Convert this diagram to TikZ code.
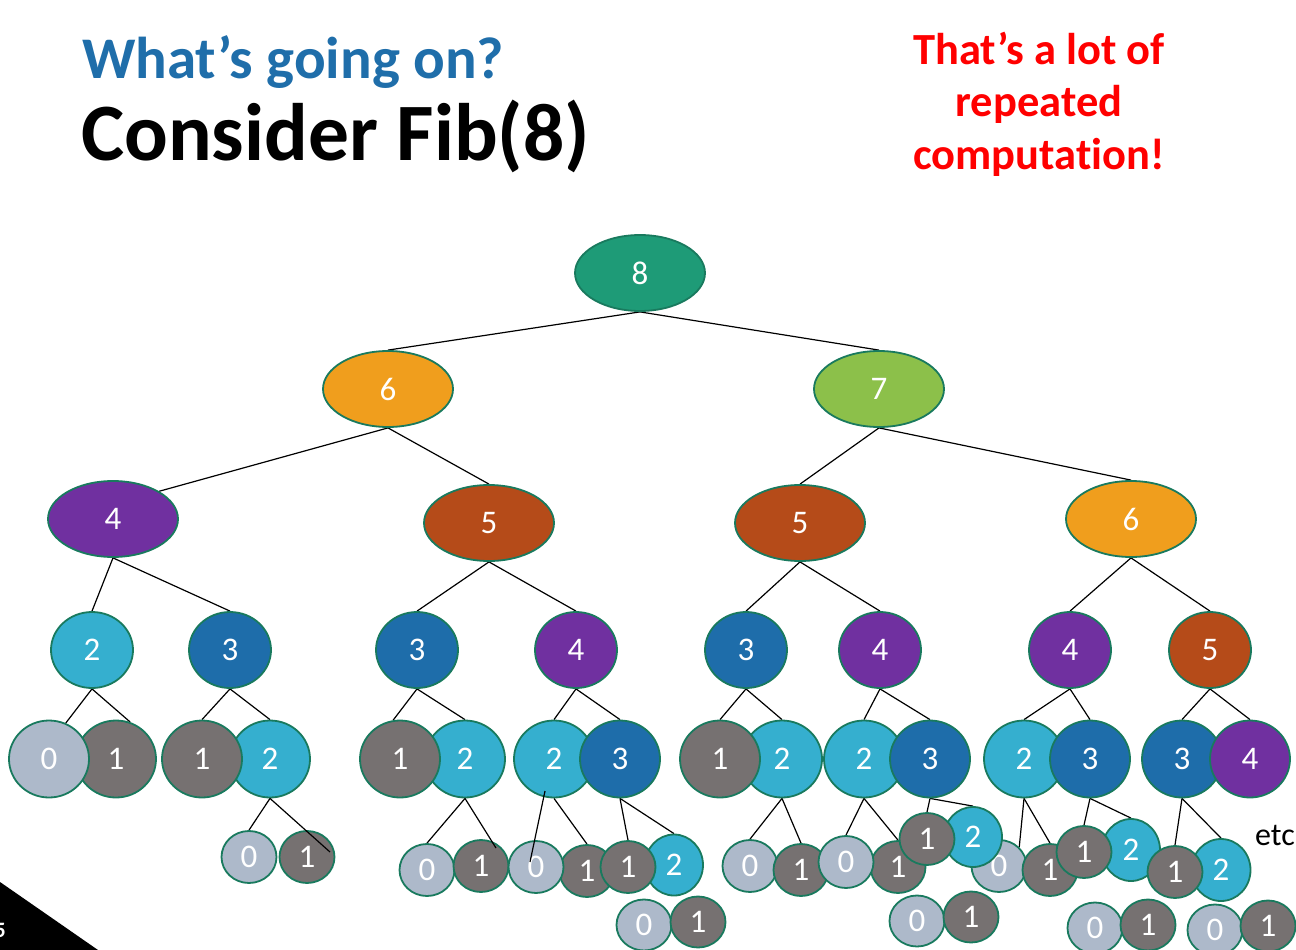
\documentclass[tikz,border=0pt]{standalone}
\usepackage{fontspec}
\setmainfont{Carlito}[Ligatures=CommonOff]
\usetikzlibrary{shapes.geometric,calc}
\pgfdeclarelayer{background}
\pgfsetlayers{background,main}

% fill colours, one per value of n
\definecolor{fibE}{HTML}{1E9B77}
\definecolor{fibSev}{HTML}{8CC04A}
\definecolor{fibS}{HTML}{F09E1D}
\definecolor{fibF}{HTML}{B54B19}
\definecolor{fibFo}{HTML}{7030A0}
\definecolor{fibT}{HTML}{1E6DAA}
\definecolor{fibTw}{HTML}{35AFCF}
\definecolor{fibO}{HTML}{767171}
\definecolor{fibZ}{HTML}{ADB9CA}
\definecolor{ring}{HTML}{197A5E}
\definecolor{headblue}{HTML}{1F6EAA}

\begin{document}
\begin{tikzpicture}[x=1pt,y=-1pt,
  fib/.style={ellipse,draw=ring,line width=1.8pt,text=white,inner sep=0pt,
              font=\fontsize{33}{39}\selectfont},
  big/.style={fib,minimum width=130pt,minimum height=76pt},
  mid/.style={fib,minimum width=82pt,minimum height=76pt},
  low/.style={fib,minimum width=80pt,minimum height=77pt},
  leaf/.style={fib,minimum width=55pt,minimum height=52pt},
  leaftwo/.style={fib,minimum width=58pt,minimum height=61pt},
  link/.style={line width=1.2pt,black}]

\useasboundingbox (0,0) rectangle (1296,950);

% headings
\node[anchor=base west,inner sep=0pt,text=headblue,
      font=\bfseries\fontsize{59}{70}\selectfont] (head) at (82,78) {What’s going on?};
\node[anchor=base west,inner sep=0pt,
      font=\bfseries\fontsize{81.5}{96}\selectfont] (title) at (81,160) {Consider Fib(8)};
\node[align=center,inner sep=0pt,text=red,
      font=\bfseries\fontsize{44.5}{52.5}\selectfont] (note) at (1039,104)
      {That’s a lot of\\repeated\\computation!};

% page corner
\fill[black] (0,882) -- (98,950) -- (0,950) -- cycle;
\node[anchor=base east,inner sep=0pt,text=white,
      font=\bfseries\fontsize{22}{26}\selectfont] (pg) at (6,937) {5};

% level 0-2
\node[big,fill=fibE] (a) at (640,273) {8};
\node[big,fill=fibS] (b1) at (388,389) {6};
\node[big,fill=fibSev] (b2) at (879,389) {7};
\node[big,fill=fibFo] (c1) at (113,519) {4};
\node[big,fill=fibF] (c2) at (489,523) {5};
\node[big,fill=fibF] (c3) at (800,523) {5};
\node[big,fill=fibS] (c4) at (1131,519) {6};

% level 3
\node[mid,fill=fibTw] (d1) at (92,650) {2};
\node[mid,fill=fibT] (d2) at (230,650) {3};
\node[mid,fill=fibT] (d3) at (417,650) {3};
\node[mid,fill=fibFo] (d4) at (576,650) {4};
\node[mid,fill=fibT] (d5) at (746,650) {3};
\node[mid,fill=fibFo] (d6) at (880,650) {4};
\node[mid,fill=fibFo] (d7) at (1070,650) {4};
\node[mid,fill=fibF] (d8) at (1210,650) {5};

% level 4
\node[low,fill=fibO] (e2) at (116,759) {1};
\node[low,fill=fibZ] (e1) at (49,759) {0};
\node[low,fill=fibTw] (e4) at (270,759) {2};
\node[low,fill=fibO] (e3) at (202,759) {1};
\node[low,fill=fibTw] (e6) at (465,759) {2};
\node[low,fill=fibO] (e5) at (400,759) {1};
\node[low,fill=fibTw] (e7) at (554,759) {2};
\node[low,fill=fibT] (e8) at (620,759) {3};
\node[low,fill=fibTw] (e10) at (782,759) {2};
\node[low,fill=fibO] (e9) at (720,759) {1};
\node[low,fill=fibTw] (e11) at (864,759) {2};
\node[low,fill=fibT] (e12) at (930,759) {3};
\node[low,fill=fibTw] (e13) at (1024,759) {2};
\node[low,fill=fibT] (e14) at (1090,759) {3};
\node[low,fill=fibT] (e15) at (1182,759) {3};
\node[low,fill=fibFo] (e16) at (1250,759) {4};

% level 5
\node[leaf,fill=fibZ] (f1) at (249,857) {0};
\node[leaf,fill=fibO] (f2) at (307,857) {1};
\node[leaf,fill=fibZ] (f3) at (427,870) {0};
\node[leaf,fill=fibO] (f4) at (481,866) {1};
\node[leaf,fill=fibO] (f6) at (587,871) {1};
\node[leaf,fill=fibZ] (f5) at (536,867) {0};
\node[leaftwo,fill=fibTw] (f8) at (674,865) {2};
\node[leaf,fill=fibO] (f7) at (628,867) {1};
\node[leaf,fill=fibZ] (f9) at (750,866) {0};
\node[leaf,fill=fibO] (f10) at (801,870) {1};
\node[leaf,fill=fibO] (f12) at (898,867) {1};
\node[leaf,fill=fibZ] (f11) at (846,862) {0};
\node[leaf,fill=fibZ] (f15) at (999,866) {0};
\node[leaftwo,minimum height=60pt,fill=fibTw] (f14) at (973,837) {2};
\node[leaf,fill=fibO] (f13) at (927,839) {1};
\node[leaf,fill=fibO] (f16) at (1050,870) {1};
\node[leaftwo,minimum height=62pt,fill=fibTw] (f18) at (1131,850) {2};
\node[leaf,fill=fibO] (f17) at (1084,852) {1};
\node[leaftwo,minimum width=59pt,minimum height=62pt,fill=fibTw] (f20) at (1221,870) {2};
\node[leaf,fill=fibO] (f19) at (1175,872) {1};

% level 6
\node[leaf,minimum height=51pt,fill=fibZ] (g1) at (644,925) {0};
\node[leaf,minimum height=51pt,fill=fibO] (g2) at (698,922) {1};
\node[leaf,minimum height=51pt,fill=fibZ] (g3) at (917,921) {0};
\node[leaf,minimum height=51pt,fill=fibO] (g4) at (971,917) {1};
\node[leaf,minimum height=51pt,fill=fibZ] (g5) at (1095,928) {0};
\node[leaf,minimum height=51pt,fill=fibO] (g6) at (1148,925) {1};
\node[leaf,minimum height=51pt,fill=fibZ] (g7) at (1215,930) {0};
\node[leaf,minimum height=51pt,fill=fibO] (g8) at (1268,926) {1};

\node[anchor=base west,inner sep=0pt,font=\fontsize{32}{38}\selectfont] (etc) at (1255,845) {etc};

% connectors behind the nodes
\begin{pgfonlayer}{background}
\draw[link] (a.south) -- (b1.north);
\draw[link] (a.south) -- (b2.north);
\draw[link] (b1.south) -- (c1.31);
\draw[link] (b1.south) -- (c2.north);
\draw[link] (b2.south) -- (c3.north);
\draw[link] (b2.south) -- (c4.north);
\draw[link] (c1.south) -- (d1.north);
\draw[link] (c1.south) -- (d2.north);
\draw[link] (c2.south) -- (d3.north);
\draw[link] (c2.south) -- (d4.north);
\draw[link] (c3.south) -- (d5.north);
\draw[link] (c3.south) -- (d6.north);
\draw[link] (c4.south) -- (d7.north);
\draw[link] (c4.south) -- (d8.north);
\draw[link] (d1.south) -- (e1.65);
\draw[link] (d1.south) -- (e2.69);
\draw[link] (d2.south) -- (e3.north);
\draw[link] (d2.south) -- (e4.north);
\draw[link] (d3.south) -- (e5.100);
\draw[link] (d3.south) -- (e6.north);
\draw[link] (d4.south) -- (e7.north);
\draw[link] (d4.south) -- (e8.north);
\draw[link] (d5.south) -- (e9.north);
\draw[link] (d5.south) -- (e10.north);
\draw[link] (d6.south) -- (e11.north);
\draw[link] (d6.south) -- (e12.north);
\draw[link] (d7.south) -- (e13.north);
\draw[link] (d7.south) -- (e14.north);
\draw[link] (d8.south) -- (e15.north);
\draw[link] (d8.south) -- (e16.north);
\draw[link] (e4.south) -- (f1.north);
\draw[link] (e6.south) -- (f3.north);
\draw[link] (e7.south) -- (f6.north);
\draw[link] (e8.south) -- (f7.north);
\draw[link] (e8.south) -- (f8.north);
\draw[link] (e10.south) -- (f9.north);
\draw[link] (e10.south) -- (f10.north);
\draw[link] (e11.south) -- (f11.north);
\draw[link] (e11.south) -- (f12.north);
\draw[link] (e12.south) -- (f13.north);
\draw[link] (e12.south) -- (f14.north);
\draw[link] (e13.south) -- (f15.43);
\draw[link] (e13.south) -- (f16.north);
\draw[link] (e14.south) -- (f17.north);
\draw[link] (e14.south) -- (f18.north);
\draw[link] (e15.south) -- (f19.north);
\draw[link] (e15.south) -- (f20.north);
\end{pgfonlayer}

% connectors that run over the nodes
\draw[link] (e4.south) -- ($(f2.center)+(23,-5)$);
\draw[link] (e6.south) -- ($(f4.center)+(15,-18)$);
\draw[link] ($(e7.center)+(-9,32)$) -- ($(f5.center)+(-6,-5)$);
\end{tikzpicture}
\end{document}
